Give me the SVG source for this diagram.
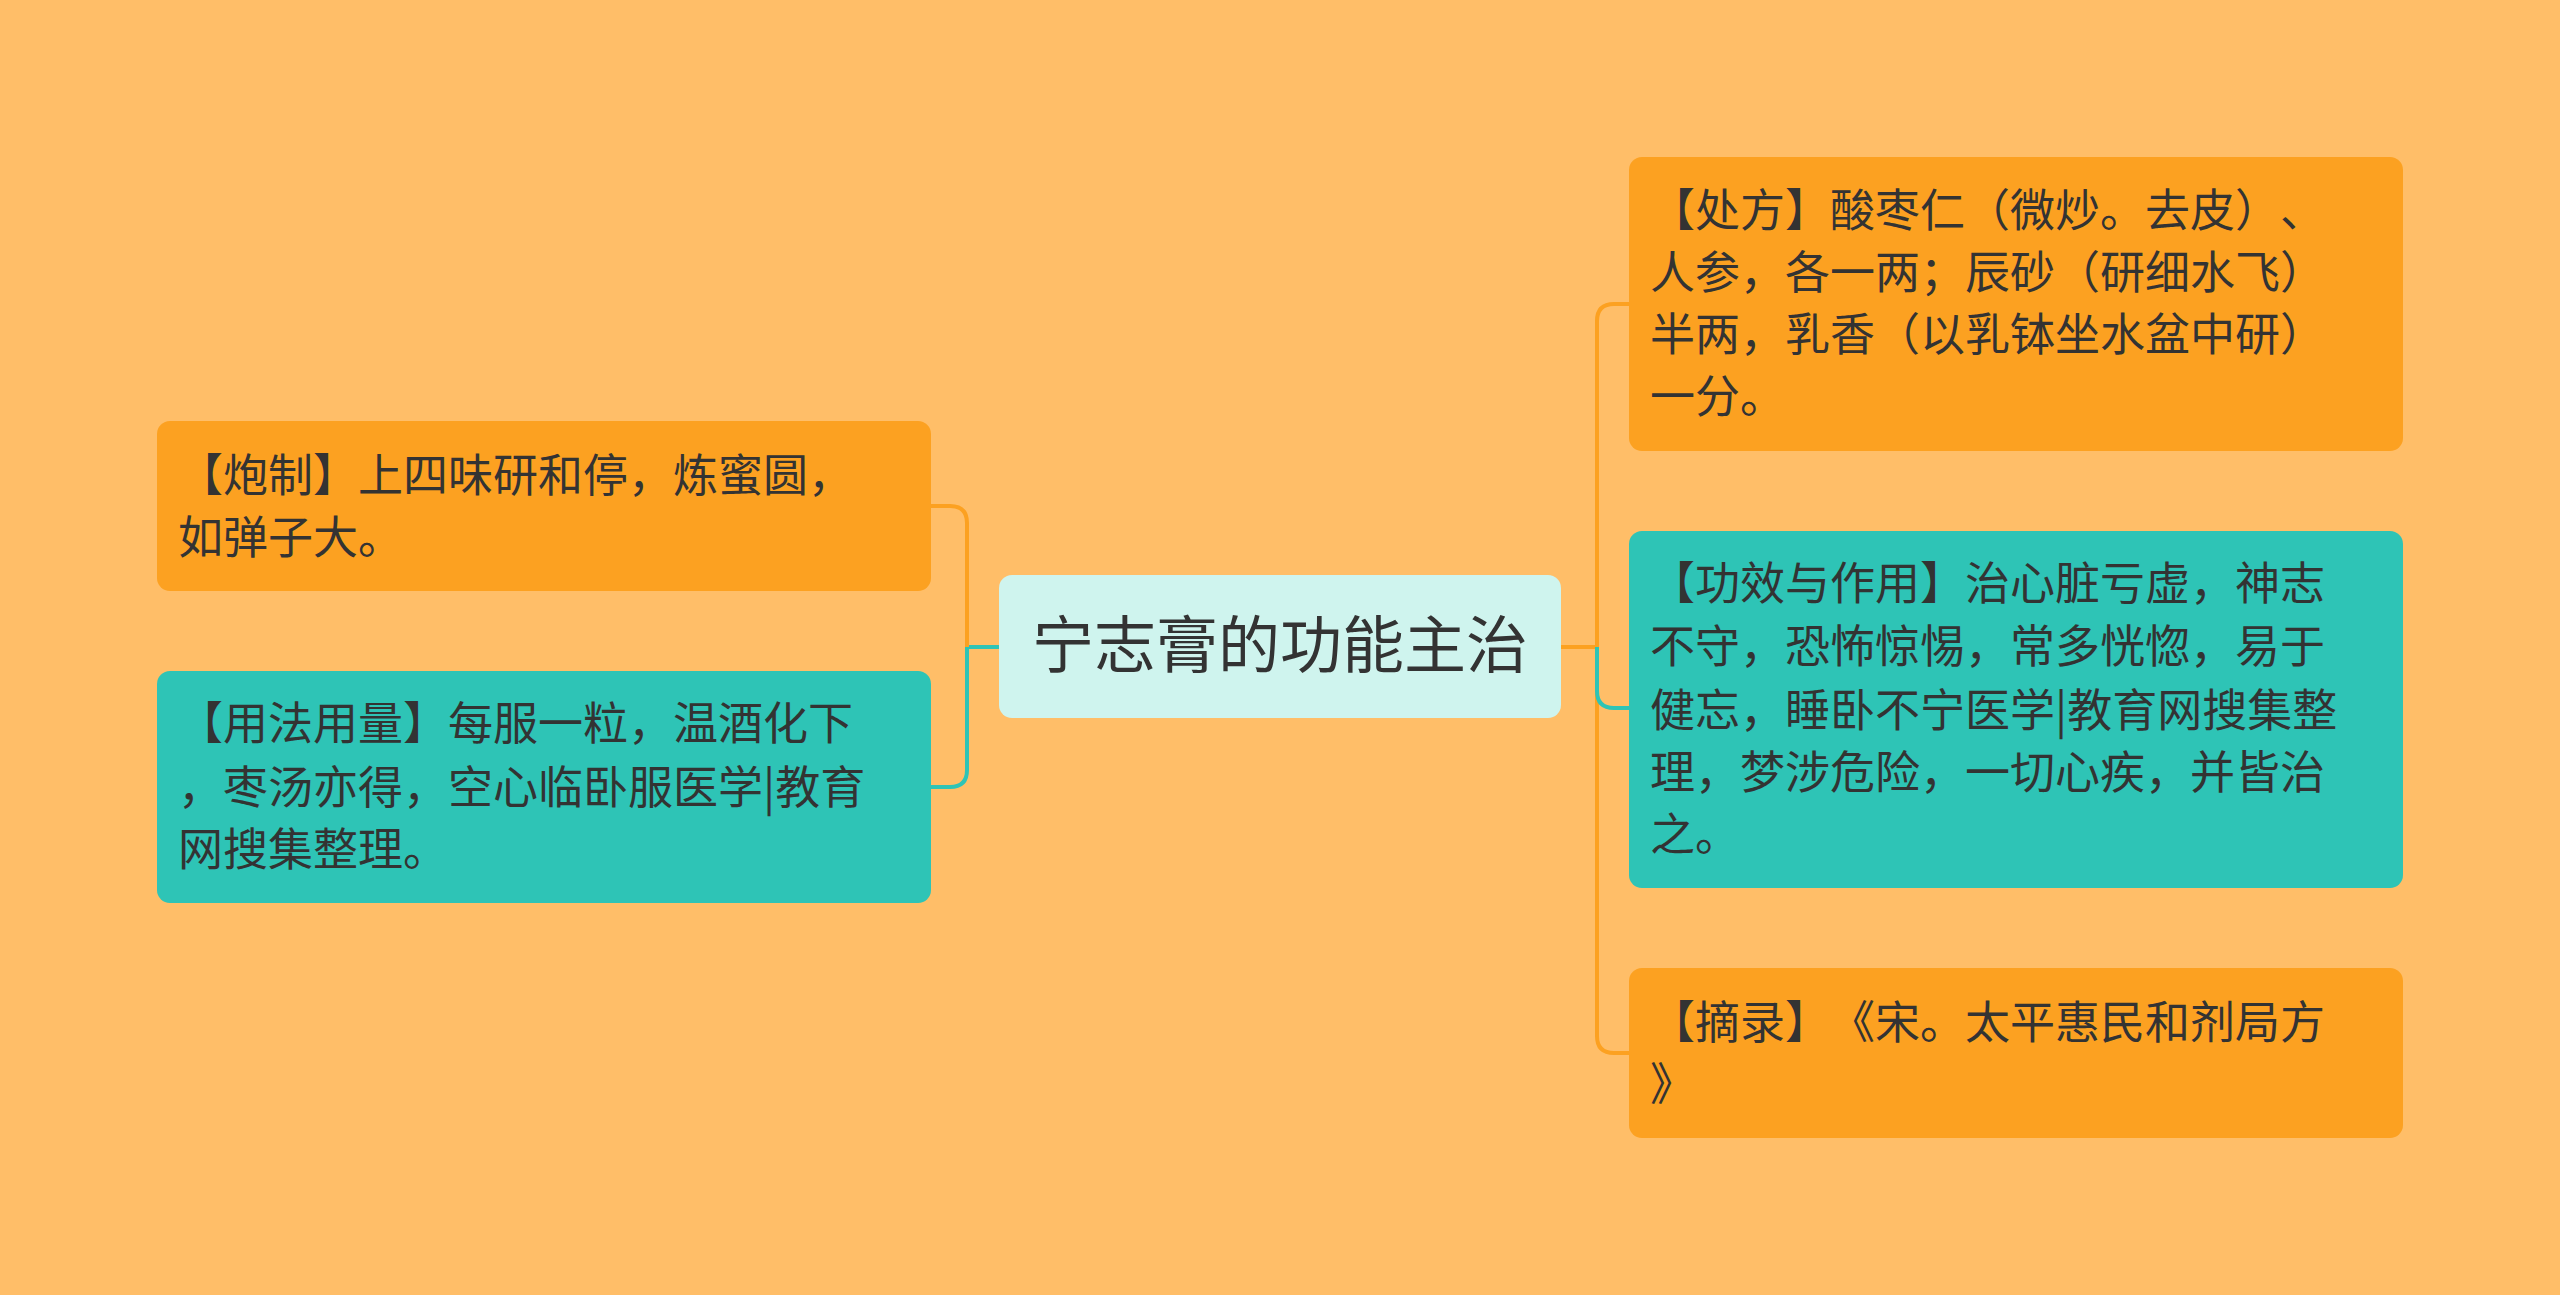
<svg xmlns="http://www.w3.org/2000/svg" width="2560" height="1295" viewBox="0 0 2560 1295">
<style>
text{text-spacing-trim:space-all}
.t{font-family:"Noto Sans CJK SC","Noto Sans",sans-serif;font-size:45px;fill:#333}
.c{font-family:"Noto Sans CJK SC","Noto Sans",sans-serif;font-size:62px;fill:#333}
.o{fill:#FCA121}
.g{fill:#2EC4B6}
.l{fill:none;stroke-width:4}
</style>
<rect width="2560" height="1295" fill="#FFBE68"/>
<g id="connectors">
<path class="l" stroke="#2EC4B6" d="M999 647 H967 V770 Q967 787 950 787 H931"/>
<path class="l" stroke="#FCA121" d="M967 647 V523 Q967 506 950 506 H931"/>
<path class="l" stroke="#FCA121" d="M1561 647 H1597 V321 Q1597 304 1614 304 H1629 M1597 647 V1036 Q1597 1053 1614 1053 H1629"/>
<path class="l" stroke="#2EC4B6" d="M1597 647 V691 Q1597 708 1614 708 H1629"/>
</g>
<g id="center"><rect x="999" y="575" width="562" height="143" rx="13" fill="#CFF4EE"/><text class="c" x="1280" y="668" text-anchor="middle">宁志膏的功能主治</text></g>
<g id="paozhi"><rect class="o" x="157" y="421" width="774" height="170" rx="13"/><text class="t"><tspan x="178" y="492">【炮制】上四味研和停，炼蜜圆，</tspan><tspan x="178" y="554">如弹子大。</tspan></text></g>
<g id="yongfa"><rect class="g" x="157" y="671" width="774" height="232" rx="13"/><text class="t"><tspan x="178" y="740">【用法用量】每服一粒，温酒化下</tspan><tspan x="178" y="804">，枣汤亦得，空心临卧服医学|教育</tspan><tspan x="178" y="866">网搜集整理。</tspan></text></g>
<g id="chufang"><rect class="o" x="1629" y="157" width="774" height="294" rx="13"/><text class="t"><tspan x="1650" y="227">【处方】酸枣仁（微炒。去皮）、</tspan><tspan x="1650" y="289">人参，各一两；辰砂（研细水飞）</tspan><tspan x="1650" y="351">半两，乳香（以乳钵坐水盆中研）</tspan><tspan x="1650" y="413">一分。</tspan></text></g>
<g id="gongxiao"><rect class="g" x="1629" y="531" width="774" height="357" rx="13"/><text class="t"><tspan x="1650" y="600">【功效与作用】治心脏亏虚，神志</tspan><tspan x="1650" y="663">不守，恐怖惊惕，常多恍惚，易于</tspan><tspan x="1650" y="727">健忘，睡卧不宁医学|教育网搜集整</tspan><tspan x="1650" y="789">理，梦涉危险，一切心疾，并皆治</tspan><tspan x="1650" y="851">之。</tspan></text></g>
<g id="zhailu"><rect class="o" x="1629" y="968" width="774" height="170" rx="13"/><text class="t"><tspan x="1650" y="1039">【摘录】《宋。太平惠民和剂局方</tspan><tspan x="1650" y="1101">》</tspan></text></g>
</svg>
